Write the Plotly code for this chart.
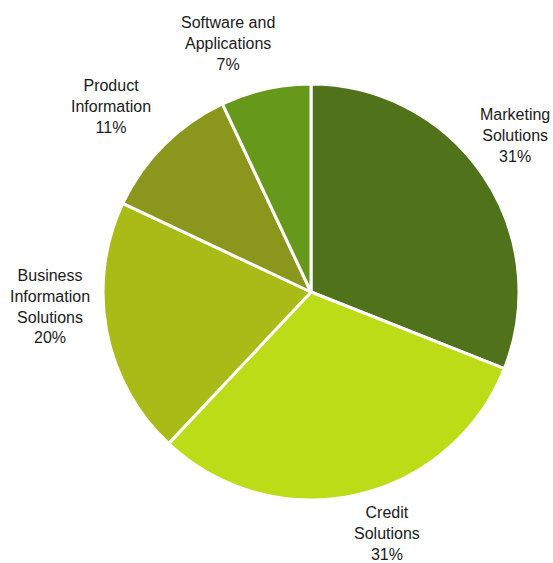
import plotly.graph_objects as go

categories = ["Marketing Solutions", "Credit Solutions", "Business Information Solutions",
              "Product Information", "Software and Applications"]
label_lines = ["Marketing<br>Solutions", "Credit<br>Solutions", "Business<br>Information<br>Solutions",
               "Product<br>Information", "Software and<br>Applications"]
values = [31, 31, 20, 11, 7]
colors = ["#4F721B", "#BCDC18", "#AABB18", "#8A961C", "#66981C"]

W, H = 553, 563
cx, cy, r = 311, 292, 208
# label centres (pixel positions in the figure, layout only)
label_pos = [(515, 135), (387, 533), (50, 306), (111, 107), (228, 44)]

fig = go.Figure(go.Pie(
    labels=categories,
    values=values,
    sort=False,
    direction="clockwise",
    rotation=0,
    marker=dict(colors=colors, line=dict(color="white", width=3)),
    textinfo="none",
    hoverinfo="label+percent",
    showlegend=False,
    domain=dict(x=[(cx - r) / W, (cx + r) / W], y=[(H - cy - r) / H, (H - cy + r) / H]),
))

total = sum(values)
for txt, v, (px, py) in zip(label_lines, values, label_pos):
    fig.add_annotation(
        x=px / W, y=1 - py / H, xref="paper", yref="paper",
        text=f"{txt}<br>{round(100 * v / total)}%",
        showarrow=False, xanchor="center", yanchor="middle", align="center",
        font=dict(family="Liberation Sans, Arial, sans-serif", size=16, color="#1a1a1a"),
    )

fig.update_layout(
    width=W, height=H,
    margin=dict(l=0, r=0, t=0, b=0),
    paper_bgcolor="white",
    plot_bgcolor="white",
)

fig.write_html(
    "out.html",
    config={"displayModeBar": False},
    post_script="document.body.style.margin='0';document.body.style.padding='0';"
                "document.body.style.overflow='hidden';",
)
